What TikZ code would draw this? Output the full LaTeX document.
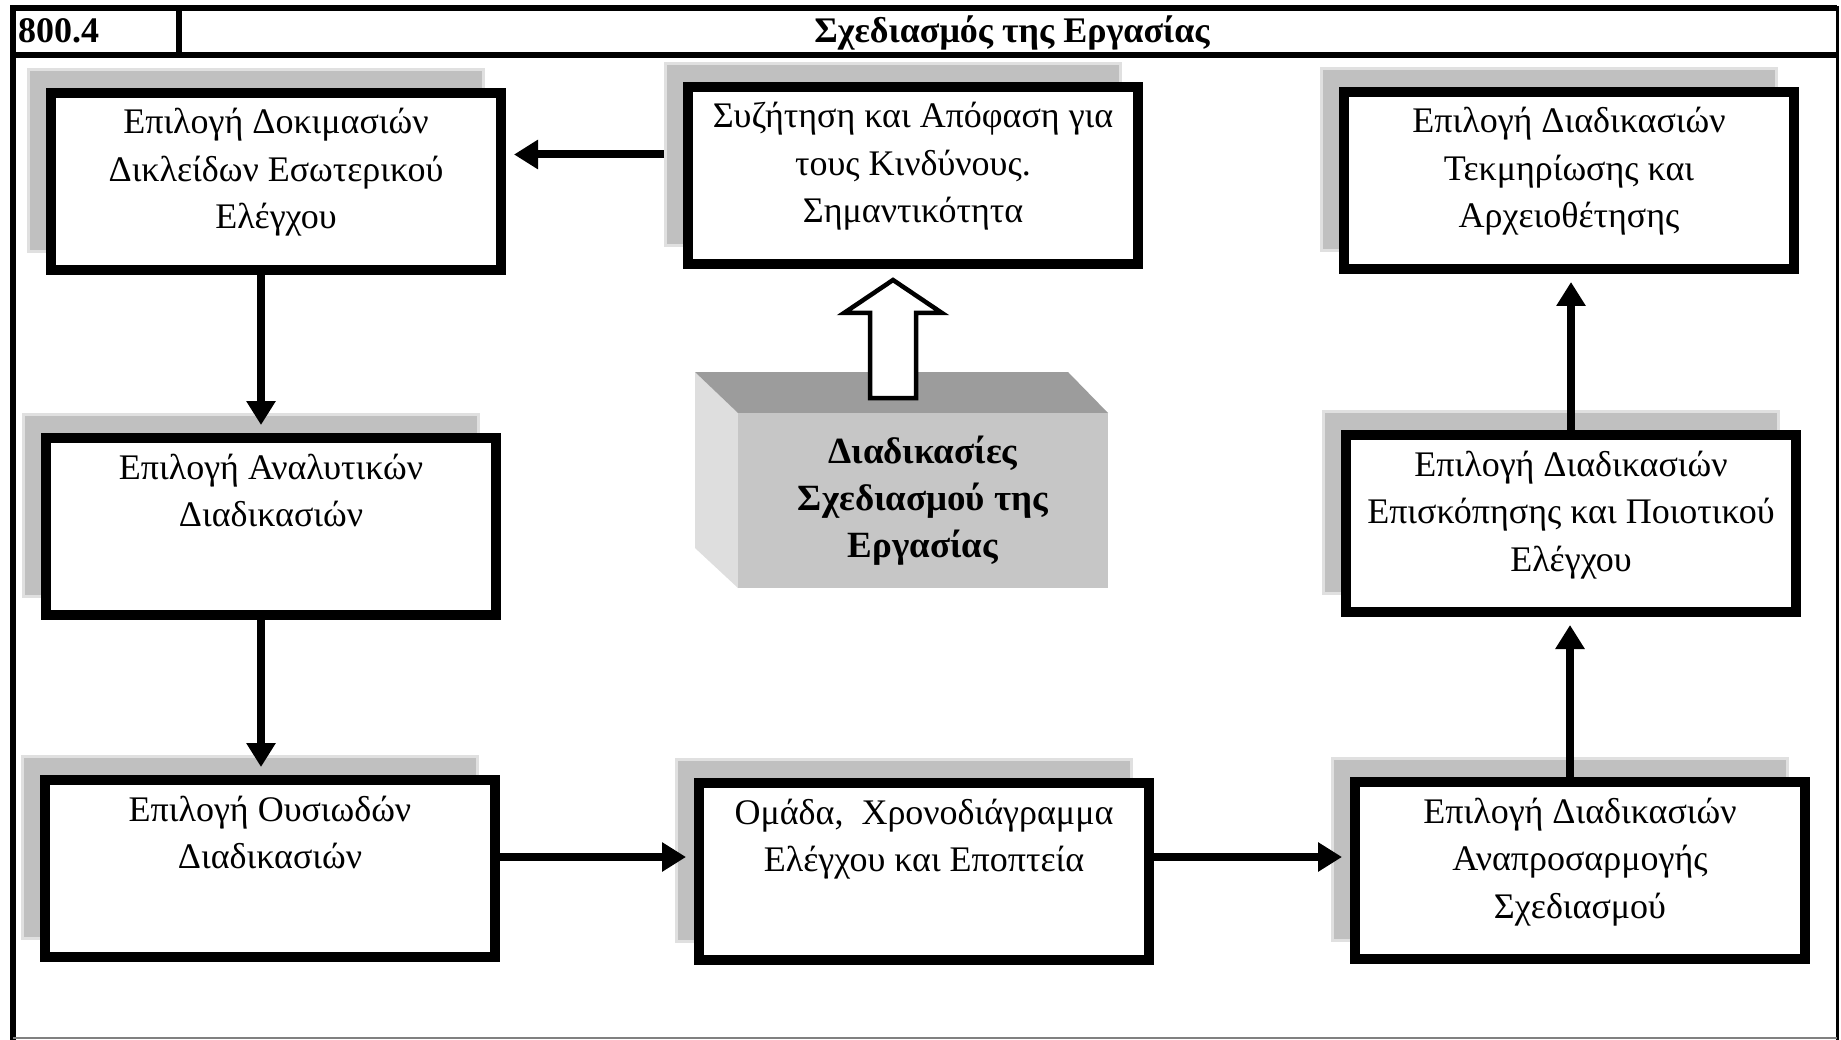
\documentclass[tikz,border=0pt]{standalone}
\usepackage{fontspec}
\setmainfont{Liberation Serif}
\usetikzlibrary{arrows.meta,calc}
\definecolor{shd}{RGB}{192,192,192}
\definecolor{shdedge}{RGB}{224,224,224}
\definecolor{ctop}{RGB}{156,156,156}
\definecolor{cleft}{RGB}{222,222,222}
\definecolor{cfront}{RGB}{198,198,198}
\newcommand{\bxt}[1]{\parbox[c][177pt][t]{450pt}{\fontsize{36}{47.5}\selectfont\centering\rule{0pt}{41pt}#1}}
\tikzset{
  pbox/.style={draw, line width=10pt, fill=white, inner sep=0pt},
  sbox/.style={fill=shd, draw=shdedge, line width=3pt, minimum width=455pt, minimum height=182pt, inner sep=0pt},
  arr/.style={line width=8pt, -{Triangle[length=24pt,width=28pt]}, shorten >=8pt},
  hollow/.style={line width=4.5pt, fill=white, line join=miter},
  frame/.style={line width=6pt}
}
\begin{document}
\begin{tikzpicture}[x=1pt,y=-1pt]
\useasboundingbox (0,0) rectangle (1841,1040);
\fill[white] (0,0) rectangle (1841,1040);
% frame
\draw[frame] (13,1040) -- (13,8) -- (1837,8);
\draw[line width=3pt] (1837,6) -- (1837,1040);
\draw[frame] (10,55) -- (1838,55);
\draw[frame] (179,8) -- (179,55);
\draw[line width=2pt, gray] (13,1038) -- (1837,1038);
\node[anchor=base west, inner sep=0pt, font=\bfseries\fontsize{36}{42}\selectfont] (num) at (18,43) {800.4};
\node[anchor=base, inner sep=0pt, font=\bfseries\fontsize{36}{42}\selectfont] (title) at (1012,43) {Σχεδιασμός της Εργασίας};
% shadows
\node[sbox] (Ash) at (256,160.5) {};
\node[sbox] (Bsh) at (893,154.5) {};
\node[sbox] (Csh) at (1549,159.5) {};
\node[sbox] (Dsh) at (251,505.5) {};
\node[sbox] (Esh) at (1551,502.5) {};
\node[sbox] (Fsh) at (250,847.5) {};
\node[sbox] (Gsh) at (904,850.5) {};
\node[sbox] (Hsh) at (1560,849.5) {};
% boxes
\node[pbox] (A) at (276,181.5) {\bxt{Επιλογή Δοκιμασιών\\Δικλείδων Εσωτερικού\\Ελέγχου}};
\node[pbox] (B) at (913,175.5) {\bxt{Συζήτηση και Απόφαση για\\τους Κινδύνους.\\Σημαντικότητα}};
\node[pbox] (C) at (1569,180.5) {\bxt{Επιλογή Διαδικασιών\\Τεκμηρίωσης και\\Αρχειοθέτησης}};
\node[pbox] (D) at (271,526.5) {\bxt{Επιλογή Αναλυτικών\\Διαδικασιών}};
\node[pbox] (E) at (1571,523.5) {\bxt{Επιλογή Διαδικασιών\\Επισκόπησης και Ποιοτικού\\Ελέγχου}};
\node[pbox] (F) at (270,868.5) {\bxt{Επιλογή Ουσιωδών\\Διαδικασιών}};
\node[pbox] (G) at (924,871.5) {\bxt{Ομάδα,~~Χρονοδιάγραμμα\\Ελέγχου και Εποπτεία}};
\node[pbox] (H) at (1580,870.5) {\bxt{Επιλογή Διαδικασιών\\Αναπροσαρμογής\\Σχεδιασμού}};
% 3D block
\fill[cleft] (695,372) -- (738,413) -- (738,588) -- (695,548) -- cycle;
\fill[ctop] (695,372) -- (1068,372) -- (1108,413) -- (738,413) -- cycle;
\node[fill=cfront, minimum width=370pt, minimum height=175pt, inner sep=0pt, align=center,
      font=\bfseries\fontsize{37}{47}\selectfont] (proc) at (923,500.5) {Διαδικασίες\\Σχεδιασμού της\\Εργασίας};
% hollow arrow from block to B
\coordinate (htip) at ([xshift=-20pt,yshift=-11pt]B.south);
\draw[hollow] (htip) -- ++(49,33) -- ++(-26,0) -- ++(0,85) -- ++(-46,0) -- ++(0,-85) -- ++(-26,0) -- cycle;
% connectors
\draw[arr] (Bsh.west) -- (A.east |- Bsh.west);
\draw[arr] ([xshift=-15pt]A.south) -- ([xshift=-15pt]A.south |- D.north);
\draw[arr] ([xshift=-10pt]D.south) -- ([xshift=-10pt]D.south |- F.north);
\draw[arr] ([yshift=11.5pt]F.east) -- ([yshift=11.5pt]F.east -| G.west);
\draw[arr] ([yshift=11.5pt]F.east -| G.east) -- ([yshift=11.5pt]F.east -| H.west);
\draw[arr] ([xshift=-10pt]H.north) -- ([xshift=-10pt]H.north |- E.south);
\draw[arr] (E.north) -- (E.north |- C.south);
\end{tikzpicture}
\end{document}
